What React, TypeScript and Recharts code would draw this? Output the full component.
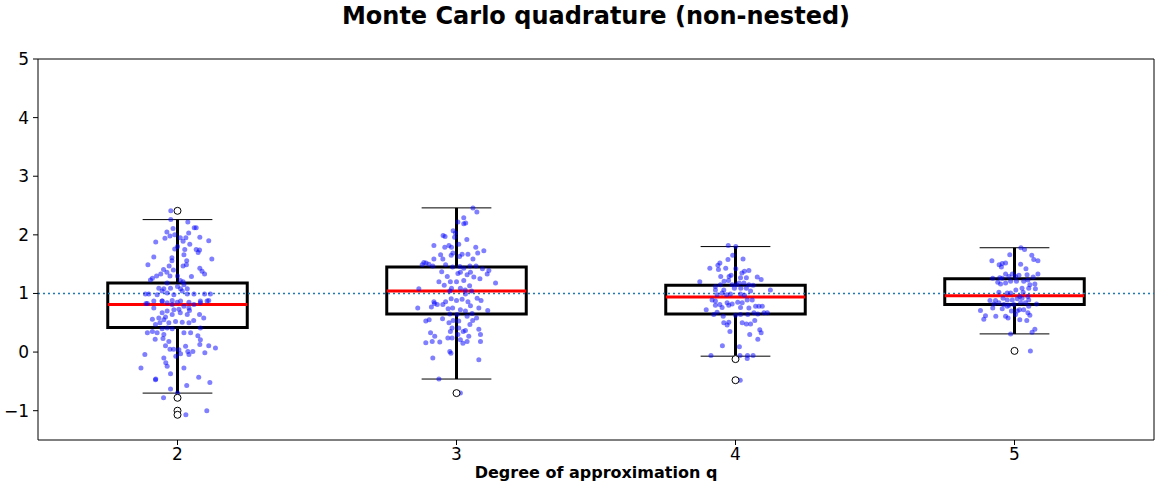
import {
  ScatterChart,
  Scatter,
  XAxis,
  YAxis,
  ReferenceLine,
  ReferenceArea,
} from "recharts";

// degrees on the x axis
const DEGREES = [2, 3, 4, 5];

// box plot statistics per degree
const Q1 = [0.42, 0.65, 0.65, 0.81];
const MEDIAN = [0.81, 1.04, 0.94, 0.96];
const Q3 = [1.18, 1.45, 1.14, 1.25];
const WHISK_LO = [-0.7, -0.46, -0.07, 0.31];
const WHISK_HI = [2.26, 2.46, 1.8, 1.78];
const FLIERS = [[2.41, -0.78, -1.0, -1.07], [-0.7], [-0.12, -0.48], [0.02]];

const Y_TICKS = [-1, 0, 1, 2, 3, 4, 5];

// jittered samples: [x offset, value]
const PTS_Q2: [number, number][] = [
  [-0.024, 2.41], [-0.024, 2.26], [0.037, 2.22], [-0.016, 2.11], [0.06, 2.12], [0.067, 2.12],
  [-0.038, 2.05], [0.04, 2.03], [-0.045, 1.94], [-0.027, 1.98], [-0.01, 2.0], [0.01, 1.95],
  [0.03, 1.95], [0.08, 1.96], [0.112, 1.9], [-0.078, 1.88], [0.02, 1.89], [0.044, 1.84],
  [-0.01, 1.76], [0, 1.8], [0.026, 1.75], [0.067, 1.75], [0.079, 1.74], [0.074, 1.7],
  [0.023, 1.66], [-0.085, 1.62], [-0.02, 1.61], [-0.02, 1.56], [0.123, 1.59], [0.033, 1.56],
  [-0.106, 1.49], [0.02, 1.47], [0.032, 1.49], [-0.03, 1.47], [-0.015, 1.4], [0.08, 1.43],
  [0.088, 1.38], [0.097, 1.33], [-0.05, 1.41], [-0.038, 1.36], [-0.06, 1.33], [-0.075, 1.3],
  [-0.09, 1.26], [-0.097, 1.23], [-0.027, 1.3], [0, 1.3], [0.05, 1.29], [0.01, 1.22],
  [0.02, 1.2], [-0.037, 1.18], [-0.067, 1.09], [-0.025, 1.09], [0, 1.12], [0.023, 1.15],
  [-0.049, 1.08], [0.011, 1.08], [0.035, 1.08], [-0.115, 0.99], [-0.103, 0.99], [-0.073, 0.98],
  [-0.055, 1.04], [-0.037, 1.01], [-0.013, 0.98], [0.017, 1.04], [0.035, 0.99], [0.059, 0.99],
  [0.097, 0.99], [0.118, 0.99], [-0.085, 0.87], [-0.055, 0.87], [-0.019, 0.88], [0.011, 0.87],
  [0.041, 0.85], [0.082, 0.87], [0.112, 0.88], [-0.113, 0.83], [-0.108, 0.83], [-0.085, 0.75],
  [-0.055, 0.87], [-0.037, 0.84], [-0.019, 0.81], [-0.001, 0.85], [0.023, 0.78], [0.041, 0.75],
  [0.059, 0.81], [0.082, 0.84], [0.106, 0.87], [-0.013, 0.72], [0.005, 0.73], [-0.037, 0.7],
  [-0.055, 0.67], [0.043, 0.71], [-0.09, 0.56], [-0.067, 0.58], [-0.043, 0.6], [-0.019, 0.64],
  [0.01, 0.67], [0.035, 0.64], [0.058, 0.54], [0.079, 0.64], [0.094, 0.58], [-0.063, 0.5],
  [-0.079, 0.47], [-0.049, 0.55], [-0.031, 0.5], [-0.007, 0.52], [0.017, 0.51], [0.041, 0.5],
  [-0.055, 0.4], [-0.037, 0.41], [-0.019, 0.4], [-0.108, 0.33], [-0.09, 0.35], [-0.073, 0.33],
  [-0.049, 0.3], [0.023, 0.33], [0.047, 0.33], [0.082, 0.41], [0.073, 0.28], [-0.08, 0.22],
  [-0.052, 0.23], [-0.031, 0.18], [0.082, 0.21], [0.08, 0.13], [0.112, 0.11], [0.136, 0.07],
  [-0.043, 0.11], [-0.027, 0.05], [-0.014, 0.05], [0.005, 0.04], [0.029, 0.1], [0.037, 0.01],
  [0.055, 0.01], [0.041, -0.04], [0.011, -0.03], [-0.006, -0.07], [-0.117, -0.04], [0.098, -0.01],
  [-0.049, -0.1], [-0.042, -0.18], [-0.037, -0.24], [-0.131, -0.27], [0.023, -0.27], [-0.025, -0.37],
  [-0.078, -0.46], [0.076, -0.43], [0.116, -0.52], [0.033, -0.57], [-0.025, -0.63], [0, -0.7],
  [-0.05, -0.78], [0.03, -1.07], [0.105, -1.0], [-0.079, -0.47],
];

const PTS_Q3: [number, number][] = [
  [0.059, 2.46], [0.073, 2.39], [0.026, 2.29], [0.005, 2.22], [0.026, 2.19], [0.033, 2.2],
  [-0.012, 2.07], [-0.004, 2.03], [-0.048, 1.99], [-0.041, 1.97], [-0.007, 1.96], [0.037, 1.92],
  [-0.081, 1.82], [-0.042, 1.79], [-0.027, 1.82], [-0.018, 1.79], [0.008, 1.84], [0.069, 1.79],
  [0.098, 1.73], [0.076, 1.69], [-0.019, 1.65], [-0.013, 1.69], [0.02, 1.67], [0.041, 1.67],
  [-0.057, 1.66], [-0.049, 1.59], [-0.081, 1.59], [0.059, 1.59], [0.011, 1.63], [-0.117, 1.53],
  [-0.109, 1.52], [-0.099, 1.5], [-0.123, 1.49], [-0.085, 1.47], [-0.039, 1.49], [-0.014, 1.45],
  [0.012, 1.46], [0.026, 1.43], [0.048, 1.47], [0.07, 1.47], [0.093, 1.42], [-0.053, 1.37],
  [-0.033, 1.29], [0.005, 1.34], [0.014, 1.36], [0.038, 1.32], [0.05, 1.36], [0.062, 1.28],
  [0.084, 1.25], [0.11, 1.33], [0.116, 1.39], [0.14, 1.18], [-0.063, 1.2], [-0.044, 1.14],
  [-0.022, 1.2], [0, 1.2], [0.026, 1.22], [0.047, 1.13], [-0.135, 1.08], [-0.024, 1.04],
  [-0.018, 1.09], [0.014, 1.09], [0.031, 1.06], [0.054, 1.04], [-0.081, 0.86], [-0.039, 0.86],
  [-0.019, 0.91], [0, 0.88], [0.02, 0.9], [0.032, 0.99], [0.041, 0.86], [0.074, 0.92],
  [0.088, 0.88], [-0.139, 0.75], [-0.09, 0.77], [-0.079, 0.83], [-0.069, 0.81], [-0.049, 0.81],
  [-0.03, 0.74], [-0.014, 0.75], [0.014, 0.72], [0.032, 0.7], [0.05, 0.79], [0.08, 0.75],
  [0.112, 0.71], [-0.024, 0.65], [0.002, 0.64], [0.038, 0.61], [0.056, 0.66], [0.072, 0.58],
  [-0.11, 0.53], [-0.098, 0.55], [-0.05, 0.57], [-0.027, 0.5], [-0.012, 0.54], [0.008, 0.53],
  [0.048, 0.47], [0.058, 0.54], [-0.016, 0.41], [0.008, 0.41], [0.032, 0.37], [0.024, 0.35],
  [-0.022, 0.35], [0.08, 0.39], [-0.093, 0.33], [-0.078, 0.27], [0.005, 0.3], [0.044, 0.27],
  [0.086, 0.3], [-0.031, 0.24], [-0.016, 0.24], [0.014, 0.21], [0.038, 0.18], [0.086, 0.18],
  [-0.11, 0.16], [-0.087, 0.18], [-0.06, 0.17], [0.023, 0.15], [-0.024, 0.01], [-0.02, -0.02],
  [-0.085, -0.1], [0.08, -0.13], [-0.063, -0.46], [0.014, -0.7],
];

const PTS_Q4: [number, number][] = [
  [-0.026, 1.82], [0.001, 1.8], [-0.01, 1.65], [-0.027, 1.58], [0.027, 1.59], [-0.056, 1.52],
  [-0.063, 1.48], [-0.092, 1.43], [-0.061, 1.41], [-0.035, 1.43], [0.001, 1.42], [0.023, 1.35],
  [0.032, 1.38], [0.048, 1.39], [-0.053, 1.29], [-0.023, 1.29], [-0.016, 1.31], [0.018, 1.27],
  [0.039, 1.27], [0.078, 1.28], [0.092, 1.24], [-0.128, 1.2], [-0.041, 1.21], [-0.025, 1.22],
  [-0.054, 1.15], [-0.072, 1.12], [-0.012, 1.15], [0.004, 1.15], [0.013, 1.18], [0.03, 1.18],
  [0.048, 1.15], [0.063, 1.14], [-0.072, 1.06], [-0.042, 1.06], [-0.004, 1.09], [0.019, 1.09],
  [0.039, 1.09], [0.054, 1.04], [0.125, 1.06], [-0.066, 0.98], [-0.048, 1.01], [-0.032, 0.98],
  [-0.018, 0.99], [0.018, 0.99], [0.032, 0.97], [-0.084, 0.89], [-0.072, 0.87], [-0.056, 0.81],
  [-0.03, 0.84], [-0.012, 0.82], [0.008, 0.85], [0.024, 0.84], [0.042, 0.89], [0.06, 0.89],
  [0.072, 0.78], [0.084, 0.78], [0.096, 0.78], [-0.105, 0.72], [-0.072, 0.8], [-0.048, 0.76],
  [-0.024, 0.8], [0.018, 0.76], [0.048, 0.75], [-0.078, 0.64], [-0.066, 0.68], [-0.044, 0.61],
  [0, 0.63], [0.018, 0.64], [0.044, 0.64], [0.066, 0.67], [0.08, 0.65], [0.102, 0.67],
  [0.114, 0.67], [-0.024, 0.51], [-0.042, 0.5], [-0.03, 0.46], [0.024, 0.5], [0.039, 0.48],
  [0.054, 0.48], [0.069, 0.54], [-0.02, 0.35], [0.051, 0.3], [0.087, 0.38], [0.092, 0.33],
  [0.08, 0.22], [-0.047, 0.11], [0.014, 0.09], [-0.088, -0.06], [0.016, -0.06], [0.043, -0.06],
  [0.063, -0.06], [0.042, -0.11], [0.017, -0.48],
];

const PTS_Q5: [number, number][] = [
  [0.023, 1.78], [0.036, 1.75], [-0.017, 1.66], [0.062, 1.65], [0.069, 1.58], [0.084, 1.56],
  [-0.081, 1.56], [-0.055, 1.49], [-0.044, 1.51], [-0.047, 1.45], [-0.032, 1.52], [0.022, 1.5],
  [0.041, 1.42], [-0.032, 1.33], [-0.008, 1.33], [0.045, 1.32], [0.067, 1.28], [0.084, 1.33],
  [-0.078, 1.26], [-0.053, 1.27], [-0.044, 1.26], [-0.02, 1.29], [0.004, 1.29], [0.016, 1.31],
  [-0.06, 1.19], [-0.05, 1.16], [-0.032, 1.18], [-0.014, 1.21], [0.007, 1.21], [0.033, 1.21],
  [0.048, 1.23], [0.055, 1.15], [0.073, 1.16], [0.075, 1.08], [0.027, 1.09], [0.005, 1.06],
  [0.051, 1.09], [-0.056, 1.02], [-0.026, 1.01], [-0.014, 1.01], [0.031, 1.02], [0.019, 0.95],
  [0.048, 0.95], [-0.088, 0.88], [-0.068, 0.88], [-0.041, 0.92], [-0.026, 0.89], [-0.008, 0.89],
  [0.01, 0.91], [0.027, 0.92], [0.051, 0.89], [-0.074, 0.82], [-0.056, 0.84], [-0.038, 0.81],
  [-0.02, 0.8], [-0.002, 0.81], [0.022, 0.84], [0.039, 0.84], [0.079, 0.82], [-0.078, 0.75],
  [-0.044, 0.74], [-0.026, 0.78], [-0.011, 0.7], [0.01, 0.7], [0.018, 0.72], [0.033, 0.72],
  [0.051, 0.78], [-0.122, 0.71], [-0.104, 0.62], [-0.11, 0.56], [-0.067, 0.61], [-0.032, 0.61],
  [-0.023, 0.58], [0.004, 0.64], [0.048, 0.67], [0.055, 0.63], [0.044, 0.54], [0.019, 0.55],
  [0.073, 0.39], [0.063, 0.34], [-0.014, 0.31], [0.057, 0.02],
];

const SAMPLES = [PTS_Q2, PTS_Q3, PTS_Q4, PTS_Q5];

const pointData = SAMPLES.flatMap((pts, i) =>
  pts.map(([dx, y]) => ({ x: DEGREES[i] + dx, y }))
);
const flierData = FLIERS.flatMap((vals, i) =>
  vals.map((y) => ({ x: DEGREES[i], y }))
);

const fmtY = (v: number) => (v < 0 ? `\u2212${Math.abs(v)}` : `${v}`);

const FONT = "'DejaVu Sans', sans-serif";

export default function App() {
  return (
    <div
      style={{
        position: "absolute",
        left: 0,
        top: 0,
        width: 1161,
        height: 488,
        background: "#fff",
        fontFamily: FONT,
      }}
    >
      <div
        style={{
          position: "absolute",
          left: 38,
          width: 1116,
          top: 2,
          textAlign: "center",
          fontSize: 24,
          fontWeight: "bold",
          color: "#000",
        }}
      >
        Monte Carlo quadrature (non-nested)
      </div>
      <div
        style={{
          position: "absolute",
          left: 38,
          width: 1116,
          top: 463,
          textAlign: "center",
          fontSize: 16,
          fontWeight: "bold",
          color: "#000",
        }}
      >
        Degree of approximation q
      </div>
      <ScatterChart
        width={1161}
        height={488}
        margin={{ top: 59, right: 7, bottom: 0, left: 0 }}
        style={{ position: "absolute", left: 0, top: 0 }}
      >
        <XAxis
          dataKey="x"
          type="number"
          domain={[1.5, 5.5]}
          ticks={DEGREES}
          height={48}
          stroke="#000"
          tickSize={5}
          tickMargin={3}
          tick={{ fill: "#000", fontSize: 17, fontFamily: FONT }}
          allowDataOverflow
        />
        <YAxis
          dataKey="y"
          type="number"
          domain={[-1.5, 5]}
          ticks={Y_TICKS}
          width={38}
          stroke="#000"
          tickSize={5}
          tickMargin={4}
          tickFormatter={fmtY}
          tick={{ fill: "#000", fontSize: 17, fontFamily: FONT }}
          allowDataOverflow
        />
        <ReferenceLine y={5} stroke="#000" strokeWidth={1} />
        <ReferenceLine x={5.5} stroke="#000" strokeWidth={1} />
        <ReferenceLine
          y={1}
          stroke="#1f77b4"
          strokeWidth={1.5}
          strokeDasharray="2 3"
        />
        <Scatter
          data={pointData}
          isAnimationActive={false}
          shape={(p: any) => (
            <circle cx={p.cx} cy={p.cy} r={2.5} fill="#0000ff" fillOpacity={0.5} />
          )}
        />
        {DEGREES.map((q, i) => (
          <ReferenceArea
            key={`box-${q}`}
            x1={q - 0.25}
            x2={q + 0.25}
            y1={Q1[i]}
            y2={Q3[i]}
            fill="none"
            fillOpacity={0}
            stroke="#000"
            strokeWidth={3}
          />
        ))}
        {DEGREES.map((q, i) => (
          <ReferenceLine
            key={`wl-${q}`}
            segment={[
              { x: q, y: Q1[i] },
              { x: q, y: WHISK_LO[i] },
            ]}
            stroke="#000"
            strokeWidth={3}
          />
        ))}
        {DEGREES.map((q, i) => (
          <ReferenceLine
            key={`wh-${q}`}
            segment={[
              { x: q, y: Q3[i] },
              { x: q, y: WHISK_HI[i] },
            ]}
            stroke="#000"
            strokeWidth={3}
          />
        ))}
        {DEGREES.map((q, i) => (
          <ReferenceLine
            key={`cl-${q}`}
            segment={[
              { x: q - 0.125, y: WHISK_LO[i] },
              { x: q + 0.125, y: WHISK_LO[i] },
            ]}
            stroke="#000"
            strokeWidth={1}
          />
        ))}
        {DEGREES.map((q, i) => (
          <ReferenceLine
            key={`ch-${q}`}
            segment={[
              { x: q - 0.125, y: WHISK_HI[i] },
              { x: q + 0.125, y: WHISK_HI[i] },
            ]}
            stroke="#000"
            strokeWidth={1}
          />
        ))}
        {DEGREES.map((q, i) => (
          <ReferenceLine
            key={`md-${q}`}
            segment={[
              { x: q - 0.25, y: MEDIAN[i] },
              { x: q + 0.25, y: MEDIAN[i] },
            ]}
            stroke="#ff0000"
            strokeWidth={3}
          />
        ))}
        <Scatter
          data={flierData}
          isAnimationActive={false}
          shape={(p: any) => (
            <circle cx={p.cx} cy={p.cy} r={3.5} fill="#fff" stroke="#000" strokeWidth={1} />
          )}
        />
      </ScatterChart>
    </div>
  );
}
